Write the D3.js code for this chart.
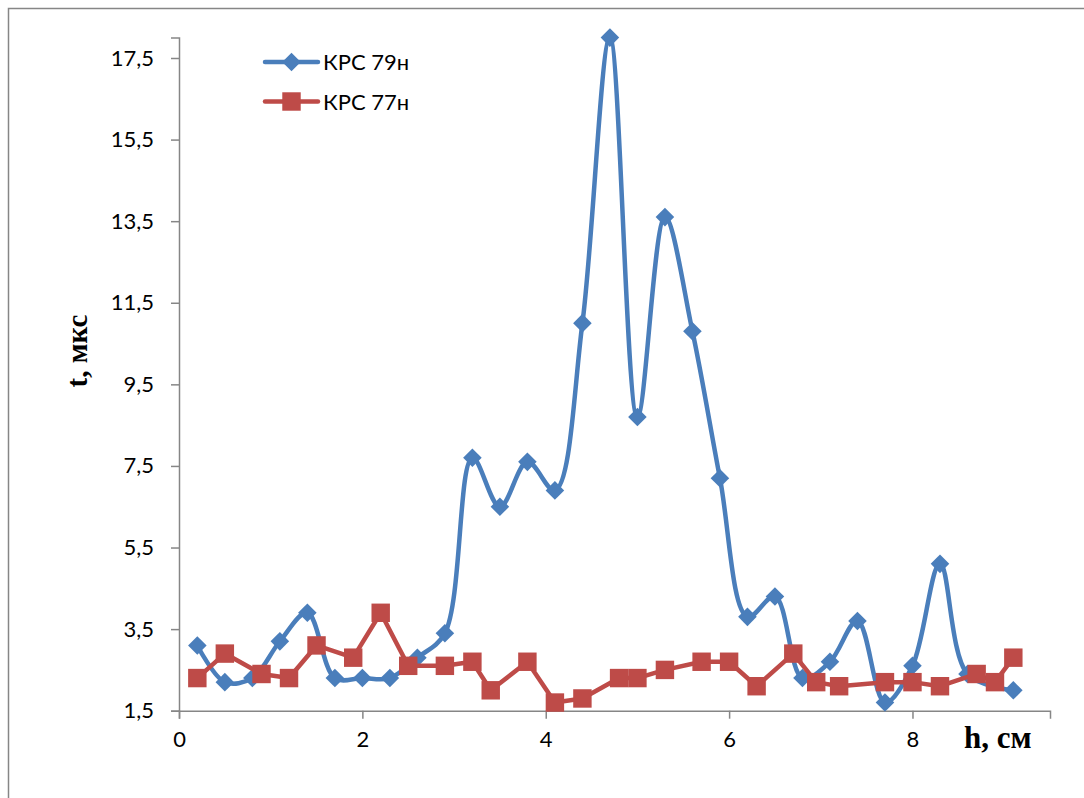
<!DOCTYPE html>
<html>
<head>
<meta charset="utf-8">
<script src="https://cdn.jsdelivr.net/npm/d3@7"></script>
<style>
  body { margin: 0; background: #fff; }
  svg { display: block; }
</style>
</head>
<body>
<div id="chart"></div>
<script>
var w = 1084;
var h = 798;

// КРС 79н
var h79 = [0.2, 0.5, 0.8, 1.1, 1.4, 1.7, 2.0, 2.3, 2.6, 2.9, 3.2, 3.5, 3.8, 4.1, 4.4,
           4.7, 5.0, 5.3, 5.6, 5.9, 6.2, 6.5, 6.8, 7.1, 7.4, 7.7, 8.0, 8.3, 8.6, 9.1];
var t79 = [3.1, 2.2, 2.3, 3.2, 3.9, 2.3, 2.3, 2.3, 2.8, 3.4, 7.7, 6.5, 7.6, 6.9, 11.0,
           18.0, 8.7, 13.6, 10.8, 7.2, 3.8, 4.3, 2.3, 2.7, 3.7, 1.7, 2.6, 5.1, 2.4, 2.0];

// КРС 77н
var h77 = [0.2, 0.5, 0.9, 1.2, 1.5, 1.9, 2.2, 2.5, 2.9, 3.2, 3.4, 3.8, 4.1, 4.4, 4.8,
           5.0, 5.3, 5.7, 6.0, 6.3, 6.7, 6.95, 7.2, 7.7, 8.0, 8.3, 8.7, 8.9, 9.1];
var t77 = [2.3, 2.9, 2.4, 2.3, 3.1, 2.8, 3.9, 2.6, 2.6, 2.7, 2.0, 2.7, 1.7, 1.8, 2.3,
           2.3, 2.5, 2.7, 2.7, 2.1, 2.9, 2.2, 2.1, 2.2, 2.2, 2.1, 2.4, 2.2, 2.8];

var xTicks = [0, 2, 4, 6, 8];
var yTicks = [1.5, 3.5, 5.5, 7.5, 9.5, 11.5, 13.5, 15.5, 17.5];
var seriesNames = ["КРС 79н", "КРС 77н"];

var blue = "#4a7ebb";
var red = "#be4b48";
var axisCol = "#868686";

var svg = d3.select("#chart")
            .append("svg")
            .attr("width", w)
            .attr("height", h);

// chart frame (cut off at right and bottom like the picture)
svg.append("rect")
   .attr("x", 8.5).attr("y", 8.5)
   .attr("width", w + 20).attr("height", h + 20)
   .attr("fill", "none")
   .attr("stroke", axisCol)
   .attr("stroke-width", 1.5);

var x = d3.scaleLinear().domain([0, 9.5]).range([179, 1050]);
var y = d3.scaleLinear().domain([1.5, 18]).range([710.7, 37.6]);

var fmt = function (d) { return String(d).replace(".", ","); };

// y axis
var gy = svg.append("g")
            .attr("transform", "translate(" + x(0) + ",0)")
            .call(d3.axisLeft(y).tickValues(yTicks).tickFormat(fmt).tickSize(8).tickPadding(17));

// x axis
var gx = svg.append("g")
            .attr("transform", "translate(0," + y(1.5) + ")")
            .call(d3.axisBottom(x).tickValues(xTicks).tickFormat(fmt).tickSize(8).tickPadding(13));

[gx, gy].forEach(function (g) {
    g.select(".domain").attr("stroke", axisCol).attr("stroke-width", 1.5);
    g.selectAll(".tick line").attr("stroke", axisCol).attr("stroke-width", 1.5);
    g.selectAll(".tick text")
     .attr("fill", "#000")
     .style("font-family", "Lato, 'Open Sans', sans-serif")
     .style("font-size", "22px");
});

// axis titles
svg.append("text")
   .attr("transform", "translate(87,351) rotate(-90)")
   .attr("text-anchor", "middle")
   .style("font-family", "'Liberation Serif', 'Times New Roman', serif")
   .style("font-weight", "bold")
   .style("font-size", "29px")
   .text("t, мкс");

svg.append("text")
   .attr("x", 964).attr("y", 748)
   .style("font-family", "'Liberation Serif', 'Times New Roman', serif")
   .style("font-weight", "bold")
   .style("font-size", "31px")
   .text("h, см");

var pts79 = h79.map(function (d, i) { return [d, t79[i]]; });
var pts77 = h77.map(function (d, i) { return [d, t77[i]]; });

var smooth = d3.line()
               .x(function (d) { return x(d[0]); })
               .y(function (d) { return y(d[1]); })
               .curve(d3.curveCatmullRom.alpha(0.5));

var straight = d3.line()
                 .x(function (d) { return x(d[0]); })
                 .y(function (d) { return y(d[1]); });

var diamond = d3.symbol().type(d3.symbolDiamond2).size(220);
var square = d3.symbol().type(d3.symbolSquare).size(340);

// blue series
svg.append("path")
   .attr("d", smooth(pts79))
   .attr("fill", "none")
   .attr("stroke", blue)
   .attr("stroke-width", 4.5)
   .attr("stroke-linejoin", "round");

svg.selectAll(".m79")
   .data(pts79)
   .enter()
   .append("path")
   .attr("class", "m79")
   .attr("d", diamond)
   .attr("transform", function (d) { return "translate(" + x(d[0]) + "," + y(d[1]) + ")"; })
   .attr("fill", blue);

// red series
svg.append("path")
   .attr("d", straight(pts77))
   .attr("fill", "none")
   .attr("stroke", red)
   .attr("stroke-width", 4.5)
   .attr("stroke-linejoin", "round");

svg.selectAll(".m77")
   .data(pts77)
   .enter()
   .append("path")
   .attr("class", "m77")
   .attr("d", square)
   .attr("transform", function (d) { return "translate(" + x(d[0]) + "," + y(d[1]) + ")"; })
   .attr("fill", red);

// legend
var legend = svg.selectAll(".leg")
                .data(seriesNames)
                .enter()
                .append("g")
                .attr("class", "leg")
                .attr("transform", function (d, i) { return "translate(265," + (62 + i * 39.5) + ")"; });

legend.append("line")
      .attr("x1", 0).attr("x2", 53)
      .attr("stroke", function (d, i) { return i == 0 ? blue : red; })
      .attr("stroke-width", 4.5)
      .attr("stroke-linecap", "round");

legend.append("path")
      .attr("d", function (d, i) { return i == 0 ? diamond() : square(); })
      .attr("transform", "translate(26.5,0)")
      .attr("fill", function (d, i) { return i == 0 ? blue : red; });

legend.append("text")
      .attr("x", 58).attr("y", 8)
      .style("font-family", "Lato, 'Open Sans', sans-serif")
      .style("font-size", "22px")
      .text(function (d) { return d; });
</script>
</body>
</html>
